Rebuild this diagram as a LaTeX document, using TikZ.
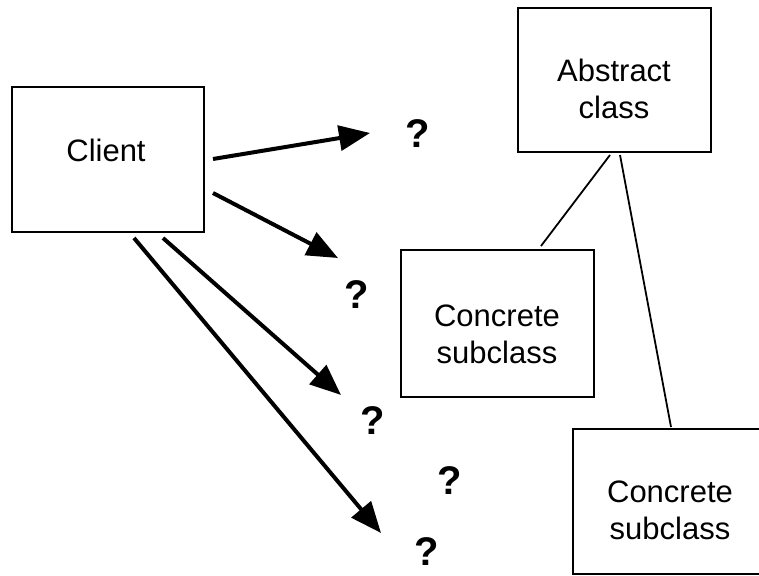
\documentclass[tikz,border=0pt]{standalone}
\usepackage{fontspec}
\setmainfont{Liberation Sans}
\usetikzlibrary{arrows.meta}
\begin{document}
\begin{tikzpicture}[x=1pt,y=-1pt,
  box/.style={draw=black,line width=2pt,rectangle,inner sep=0pt},
  boxtext/.style={align=center,font=\fontsize{31}{37}\selectfont,inner sep=0pt},
  qmark/.style={font=\fontsize{40}{44}\selectfont\bfseries,inner sep=0pt},
  callarrow/.style={line width=4pt,-{Triangle[length=31pt,width=25pt]}},
  assoc/.style={line width=1.8pt}]
\useasboundingbox (0,0) rectangle (759,575);
\clip (0,0) rectangle (759,575);
\fill[white] (0,0) rectangle (759,575);
% boxes
\node[box,minimum width=192pt,minimum height=145pt] (client) at (108,159.5) {};
\node[box,minimum width=193pt,minimum height=144pt] (abstract) at (614.5,80) {};
\node[box,minimum width=193pt,minimum height=147pt] (conc1) at (497.5,323.5) {};
\node[box,minimum width=192pt,minimum height=145pt] (conc2) at (669,501.5) {};
% texts
\node[boxtext] (tclient) at (106,150) {Client};
\node[boxtext] (tabstract) at (614,89) {Abstract\\class};
\node[boxtext] (tconc1) at (497,334) {Concrete\\subclass};
\node[boxtext] (tconc2) at (670,510) {Concrete\\subclass};
% question marks
\node[qmark] (q1) at (418,134) {?};
\node[qmark] (q2) at (357,295) {?};
\node[qmark] (q3) at (373,421) {?};
\node[qmark] (q4) at (450,481) {?};
\node[qmark] (q5) at (427,552) {?};
% arrow tips
\coordinate (t1) at (370,133);
\coordinate (t2) at (338,258);
\coordinate (t3) at (341,395);
\coordinate (t4) at (381,533);
% arrows
\draw[callarrow] ([xshift=8pt,yshift=0.5pt]client.east) -- (t1);
\draw[callarrow] ([xshift=8pt,yshift=-33.5pt]client.east) -- (t2);
\draw[callarrow] ([xshift=55pt,yshift=-5pt]client.south) -- (t3);
\draw[callarrow] ([xshift=26pt,yshift=-5pt]client.south) -- (t4);
% associations
\draw[assoc] ([xshift=-4.5pt,yshift=-2pt]abstract.south) -- ([xshift=43.5pt,yshift=3pt]conc1.north);
\draw[assoc] ([xshift=5.5pt,yshift=-2pt]abstract.south) -- ([xshift=2pt,yshift=1pt]conc2.north);
\end{tikzpicture}
\end{document}
